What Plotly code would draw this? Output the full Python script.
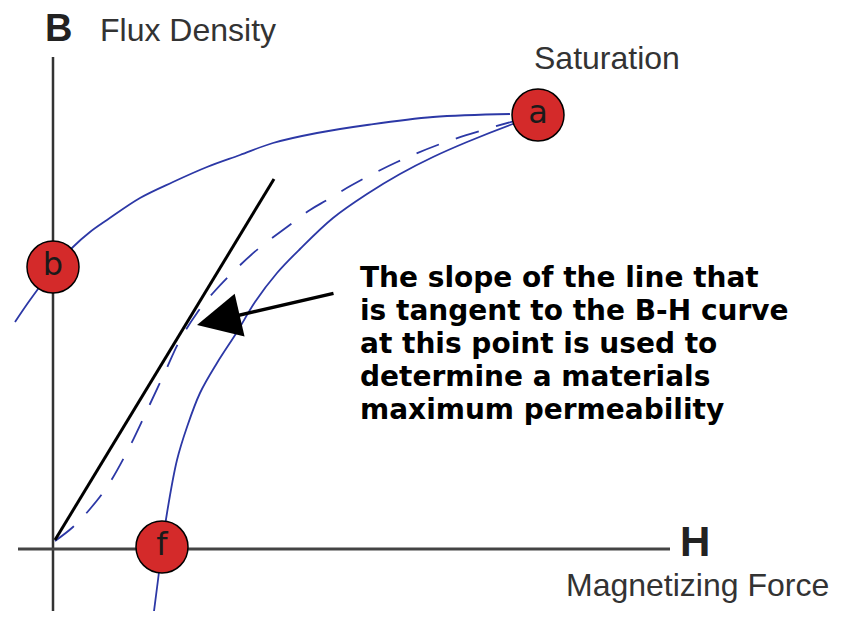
import plotly.graph_objects as go

# Coordinates: H (magnetizing force) and B (flux density), origin at the axis crossing
upper_H = [-38, -23, 2, 20, 37, 54, 87, 120, 154, 187, 220, 264, 314, 380, 457]
upper_B = [227, 249, 282, 302, 317, 329, 351, 367, 382, 394, 406, 416, 424, 432, 435]

lower_H = [100, 105, 109, 114, 124, 134, 147, 164, 184, 202, 224, 247, 280, 314, 347, 380, 414, 457, 477]
lower_B = [-70, -31, 1, 36, 89, 122, 156, 186, 217, 247, 276, 300, 331, 355, 375, 392, 407, 424, 431]

initial_H = [2, 20, 37, 54, 75, 97, 112, 127, 144, 160, 180, 205, 234, 257, 274, 299, 344, 390, 437, 469]
initial_B = [8, 22, 40, 62, 99, 145, 177, 209, 236, 256, 277, 300, 322, 339, 349, 364, 387, 406, 421, 430]

tangent_H = [2, 221]
tangent_B = [9, 370]

point_labels = ["a", "b", "f"]
point_H = [485, 0, 109]
point_B = [434, 282, 2]

axis_B_H = [0, 0]
axis_B_B = [-70, 492]
axis_H_H = [-35, 617]
axis_H_B = [0, 0]

note_lines = [
    "The slope of the line that",
    "is tangent to the B-H curve",
    "at this point is used to",
    "determine a materials",
    "maximum permeability",
]
note_H = 306
note_B = [272, 239, 206, 173, 140]

arrow_tail = (282, 256)
arrow_tip = (144, 224)

BLUE = "#2c38a6"
RED = "#d42a2a"
AXIS = "#333333"

fig = go.Figure()

fig.add_trace(go.Scatter(x=axis_B_H, y=axis_B_B, mode="lines",
                         line=dict(color=AXIS, width=2.5), hoverinfo="skip"))
fig.add_trace(go.Scatter(x=axis_H_H, y=axis_H_B, mode="lines",
                         line=dict(color="#444444", width=3), hoverinfo="skip"))

fig.add_trace(go.Scatter(x=upper_H, y=upper_B, mode="lines", line_shape="spline",
                         line=dict(color=BLUE, width=1.8)))
fig.add_trace(go.Scatter(x=lower_H, y=lower_B, mode="lines", line_shape="spline",
                         line=dict(color=BLUE, width=1.8)))
fig.add_trace(go.Scatter(x=initial_H, y=initial_B, mode="lines", line_shape="spline",
                         line=dict(color=BLUE, width=1.8, dash="24px,18px")))
fig.add_trace(go.Scatter(x=tangent_H, y=tangent_B, mode="lines",
                         line=dict(color="black", width=3)))

fig.add_trace(go.Scatter(x=point_H, y=point_B, mode="markers+text",
                         text=point_labels, textposition="middle center",
                         textfont=dict(family="DejaVu Sans", size=32, color="#1a1a1a"),
                         marker=dict(size=52, color=RED, line=dict(color="black", width=1.5))))

ann = []
ann.append(dict(x=5, y=521, text="<b>B</b>", showarrow=False,
                font=dict(family="Liberation Sans", size=38, color="#222222")))
ann.append(dict(x=45, y=519, text="Flux Density", showarrow=False, xanchor="left",
                font=dict(family="Liberation Sans", size=32, color="#333333")))
ann.append(dict(x=554, y=491, text="Saturation", showarrow=False,
                font=dict(family="Liberation Sans", size=32, color="#333333")))
ann.append(dict(x=642, y=8, text="<b>H</b>", showarrow=False,
                font=dict(family="Liberation Sans", size=42, color="#222222")))
ann.append(dict(x=644, y=-36, text="Magnetizing Force", showarrow=False,
                font=dict(family="Liberation Sans", size=32, color="#333333")))
for line, b in zip(note_lines, note_B):
    ann.append(dict(x=note_H, y=b, text="<b>" + line + "</b>", showarrow=False,
                    xanchor="left", yanchor="middle", borderpad=0,
                    font=dict(family="DejaVu Sans", size=28, color="black")))
ann.append(dict(x=arrow_tip[0], y=arrow_tip[1], ax=arrow_tail[0], ay=arrow_tail[1],
                axref="x", ayref="y", text="", showarrow=True,
                arrowhead=2, arrowsize=2.5, arrowwidth=3.5, arrowcolor="black"))

# page body has an 8px margin: the figure fills the rest of the 842x619 window
fig.update_layout(
    width=826, height=603,
    margin=dict(l=0, r=0, t=0, b=0),
    paper_bgcolor="white", plot_bgcolor="white",
    showlegend=False,
    xaxis=dict(range=[-45, 781], visible=False, fixedrange=True),
    yaxis=dict(range=[-62, 541], visible=False, fixedrange=True),
    annotations=ann,
)

fig.write_html("out.html")
